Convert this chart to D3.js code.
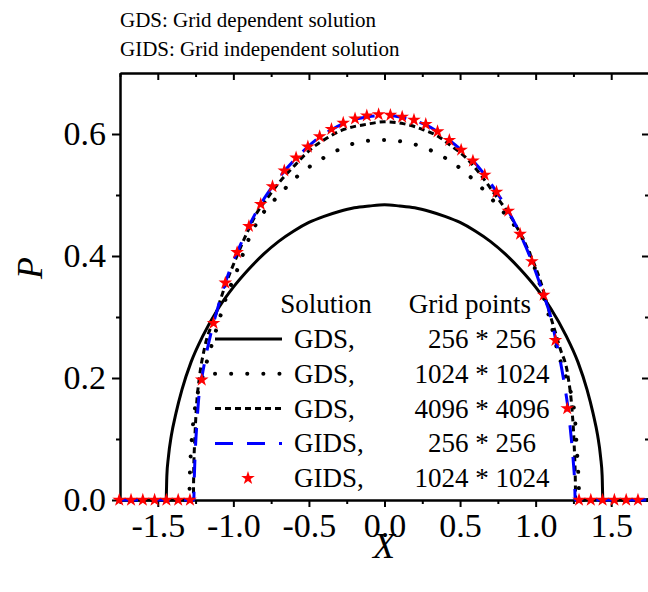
<!DOCTYPE html>
<html>
<head>
<meta charset="utf-8">
<script src="https://cdn.jsdelivr.net/npm/d3@7"></script>
<style>
  html, body { margin: 0; padding: 0; background: #fff; }
  svg { display: block; }
</style>
</head>
<body>
<svg id="chart" width="648" height="592"></svg>
<script>
// Pressure profiles P(X) for different grid resolutions
const gds256X = [-1.75, -1.445, -1.44, -1.43, -1.41, -1.38, -1.34, -1.28, -1.2, -1.1, -1.0, -0.9, -0.8, -0.7, -0.6, -0.5, -0.4, -0.3, -0.2, -0.1, 0,
                 0.1, 0.2, 0.3, 0.4, 0.5, 0.6, 0.7, 0.8, 0.9, 1.0, 1.1, 1.2, 1.28, 1.34, 1.38, 1.41, 1.43, 1.44, 1.445, 1.75];
const gds256P = [0, 0, 0.04, 0.07, 0.106, 0.142, 0.181, 0.226, 0.27, 0.314, 0.349, 0.378, 0.403, 0.424, 0.441, 0.455, 0.465, 0.473, 0.479, 0.482, 0.484,
                 0.482, 0.479, 0.473, 0.465, 0.455, 0.441, 0.424, 0.403, 0.378, 0.349, 0.314, 0.27, 0.226, 0.181, 0.142, 0.106, 0.07, 0.04, 0, 0];

const gds1024X = [-1.75, -1.292, -1.288, -1.278, -1.262, -1.24, -1.206, -1.16, -1.1, -1.05, -0.97, -0.901, -0.846, -0.78, -0.696, -0.614, -0.515, -0.422, -0.306, -0.14, 0,
                  0.169, 0.29, 0.4, 0.5, 0.588, 0.676, 0.753, 0.842, 0.95, 1.05, 1.1, 1.15, 1.206, 1.239, 1.261, 1.272, 1.283, 1.29, 1.75];
const gds1024P = [0, 0, 0.04, 0.09, 0.135, 0.17, 0.2, 0.24, 0.29, 0.33, 0.38, 0.426, 0.454, 0.478, 0.5, 0.522, 0.543, 0.558, 0.574, 0.588, 0.59,
                  0.585, 0.575, 0.561, 0.544, 0.525, 0.503, 0.481, 0.456, 0.41, 0.335, 0.29, 0.24, 0.197, 0.169, 0.131, 0.087, 0.04, 0, 0];

const gds4096X = [-1.75, -1.265, -1.262, -1.255, -1.245, -1.225, -1.19, -1.122, -1.056, -0.978, -0.912, -0.846, -0.769, -0.692, -0.592, -0.493, -0.383, -0.273, -0.118, 0,
                  0.124, 0.257, 0.356, 0.433, 0.544, 0.621, 0.687, 0.742, 0.842, 0.941, 1.029, 1.1, 1.16, 1.216, 1.24, 1.255, 1.262, 1.265, 1.75];
const gds4096P = [0, 0, 0.05, 0.1, 0.15, 0.2, 0.25, 0.3, 0.35, 0.399, 0.437, 0.47, 0.497, 0.522, 0.549, 0.574, 0.593, 0.607, 0.616, 0.62,
                  0.617, 0.607, 0.596, 0.582, 0.56, 0.538, 0.516, 0.497, 0.462, 0.415, 0.361, 0.3, 0.25, 0.2, 0.15, 0.09, 0.04, 0, 0];

const gids256X = [-1.75, -1.262, -1.258, -1.25, -1.24, -1.228, -1.209, -1.17, -1.131, -1.09, -1.053, -1.0, -0.975, -0.897, -0.819, -0.741, -0.663, -0.585, -0.507,
                  -0.429, -0.351, -0.273, -0.195, -0.117, -0.039, 0.039, 0.117, 0.195, 0.273, 0.351, 0.429, 0.507, 0.585, 0.663, 0.741, 0.819, 0.897,
                  0.975, 1.053, 1.1, 1.131, 1.16, 1.19, 1.209, 1.228, 1.24, 1.25, 1.258, 1.262, 1.75];
const gids256P = [0, 0, 0.04, 0.09, 0.13, 0.17, 0.2, 0.25, 0.29, 0.326, 0.356, 0.392, 0.406, 0.449, 0.485, 0.514, 0.539, 0.56, 0.579,
                  0.595, 0.607, 0.617, 0.624, 0.628, 0.63, 0.63, 0.627, 0.622, 0.615, 0.604, 0.59, 0.574, 0.556, 0.533, 0.505, 0.474, 0.436,
                  0.391, 0.336, 0.3, 0.265, 0.232, 0.19, 0.16, 0.12, 0.09, 0.06, 0.03, 0, 0];

const gids1024X = [-1.755, -1.677, -1.599, -1.521, -1.443, -1.365, -1.287, -1.209, -1.131, -1.053, -0.975, -0.897, -0.819, -0.741, -0.663,
                   -0.585, -0.507, -0.429, -0.351, -0.273, -0.195, -0.117, -0.039, 0.039, 0.117, 0.195, 0.273, 0.351, 0.429, 0.507,
                   0.585, 0.663, 0.741, 0.819, 0.897, 0.975, 1.053, 1.131, 1.209, 1.287, 1.365, 1.443, 1.521, 1.599, 1.677];
const gids1024P = [0, 0, 0, 0, 0, 0, 0, 0.197, 0.29, 0.356, 0.406, 0.449, 0.485, 0.514, 0.54,
                   0.561, 0.579, 0.596, 0.608, 0.618, 0.625, 0.63, 0.632, 0.631, 0.628, 0.623, 0.616, 0.604, 0.59, 0.574,
                   0.556, 0.533, 0.505, 0.474, 0.436, 0.391, 0.336, 0.262, 0.15, 0, 0, 0, 0, 0, 0];

const xMajorTicks = [-1.5, -1.0, -0.5, 0.0, 0.5, 1.0, 1.5];
const xMinorTicks = [-1.75, -1.25, -0.75, -0.25, 0.25, 0.75, 1.25, 1.75];
const yMajorTicks = [0.0, 0.2, 0.4, 0.6];
const yMinorTicks = [0.1, 0.3, 0.5];

const legendSolutions = ["GDS,", "GDS,", "GDS,", "GIDS,", "GIDS,"];
const legendGrids = ["256 * 256", "1024 * 1024", "4096 * 4096", "256 * 256", "1024 * 1024"];
const headerLines = ["GDS: Grid dependent solution", "GIDS: Grid independent solution"];

const SERIF = "'Liberation Serif', serif";
const svg = d3.select("#chart");
const plotLeft = 120, plotRight = 649, plotTop = 73, plotBottom = 500;

const x = d3.scaleLinear().domain([-1.75, 1.75]).range([plotLeft, plotRight]);
const y = d3.scaleLinear().domain([0, 0.7]).range([plotBottom, plotTop]);

function label(sel, size) {
  return sel.style("font-family", SERIF).style("font-size", size + "px").attr("fill", "#000");
}

// Header notes
svg.selectAll("text.header").data(headerLines).enter().append("text")
  .attr("class", "header")
  .attr("x", 120).attr("y", (d, i) => 27 + i * 29)
  .call(label, 21)
  .text(d => d);

// Axes
function styleAxis(g) {
  g.select(".domain").attr("stroke", "#000").attr("stroke-width", 2);
  g.selectAll(".tick line").attr("stroke", "#000").attr("stroke-width", 2);
}
const fmt = d3.format(".1f");

const gx = svg.append("g").attr("transform", `translate(0,${plotBottom})`)
  .call(d3.axisBottom(x).tickValues(xMajorTicks).tickSize(7).tickSizeOuter(0).tickPadding(6)
    .tickFormat(d => fmt(d).replace("−", "-")));
gx.call(styleAxis);
gx.selectAll(".tick text").call(label, 34).attr("dy", "0.7em");
svg.append("g").attr("transform", `translate(0,${plotBottom})`)
  .call(d3.axisBottom(x).tickValues(xMinorTicks).tickSize(4).tickSizeOuter(0).tickFormat(""))
  .call(styleAxis);

svg.append("g").attr("transform", `translate(0,${plotTop})`)
  .call(d3.axisTop(x).tickValues(xMajorTicks).tickSize(-7).tickSizeOuter(0).tickFormat(""))
  .call(styleAxis);
svg.append("g").attr("transform", `translate(0,${plotTop})`)
  .call(d3.axisTop(x).tickValues(xMinorTicks).tickSize(-4).tickSizeOuter(0).tickFormat(""))
  .call(styleAxis);

const gy = svg.append("g").attr("transform", `translate(${plotLeft},0)`)
  .call(d3.axisLeft(y).tickValues(yMajorTicks).tickSize(8).tickSizeOuter(0).tickPadding(6).tickFormat(fmt));
gy.call(styleAxis);
gy.selectAll(".tick text").call(label, 34);
svg.append("g").attr("transform", `translate(${plotLeft},0)`)
  .call(d3.axisLeft(y).tickValues(yMinorTicks).tickSize(4).tickSizeOuter(0).tickFormat(""))
  .call(styleAxis);

svg.append("g").attr("transform", `translate(${plotRight},0)`)
  .call(d3.axisRight(y).tickValues(yMajorTicks).tickSize(-7).tickSizeOuter(0).tickFormat(""))
  .call(styleAxis);
svg.append("g").attr("transform", `translate(${plotRight},0)`)
  .call(d3.axisRight(y).tickValues(yMinorTicks).tickSize(-4).tickSizeOuter(0).tickFormat(""))
  .call(styleAxis);

// Axis titles
svg.append("text")
  .attr("transform", `translate(42,268) rotate(-90)`)
  .attr("text-anchor", "middle")
  .call(label, 36).style("font-style", "italic")
  .text("P");
svg.append("text")
  .attr("x", 384).attr("y", 558)
  .attr("text-anchor", "middle")
  .call(label, 36).style("font-style", "italic")
  .text("X");

// Curves
const line = d3.line().x(d => x(d[0])).y(d => y(d[1])).curve(d3.curveMonotoneX);
const zip = (xs, ps) => xs.map((v, i) => [v, ps[i]]);

const series = [
  { data: zip(gds256X, gds256P), stroke: "#000", width: 3, dash: null, cap: "butt" },
  { data: zip(gds1024X, gds1024P), stroke: "#000", width: 4, dash: "0.1 16", cap: "round" },
  { data: zip(gds4096X, gds4096P), stroke: "#000", width: 3, dash: "6 4", cap: "butt" },
  { data: zip(gids256X, gids256P), stroke: "#0000ff", width: 3, dash: "18 14", cap: "butt" }
];

svg.selectAll("path.curve").data(series).enter().append("path")
  .attr("class", "curve")
  .attr("d", d => line(d.data))
  .attr("fill", "none")
  .attr("stroke", d => d.stroke)
  .attr("stroke-width", d => d.width)
  .attr("stroke-dasharray", d => d.dash)
  .attr("stroke-linecap", d => d.cap);

const star = d3.symbol().type(d3.symbolStar).size(58);
svg.selectAll("path.star").data(zip(gids1024X, gids1024P)).enter().append("path")
  .attr("class", "star")
  .attr("transform", d => `translate(${x(d[0])},${y(d[1])})`)
  .attr("d", star)
  .attr("fill", "#ff0000");

// Legend
const legend = svg.append("g");
legend.append("text").attr("x", 326).attr("y", 313).attr("text-anchor", "middle")
  .call(label, 27).text("Solution");
legend.append("text").attr("x", 470).attr("y", 313).attr("text-anchor", "middle")
  .call(label, 27).text("Grid points");

const rowY = i => 339 + i * 34.8;
legend.selectAll("path.sample").data(series).enter().append("path")
  .attr("class", "sample")
  .attr("d", (d, i) => `M215,${rowY(i)}H282`)
  .attr("fill", "none")
  .attr("stroke", d => d.stroke)
  .attr("stroke-width", d => d.width)
  .attr("stroke-dasharray", d => d.dash)
  .attr("stroke-linecap", d => d.cap);
legend.append("path")
  .attr("transform", `translate(248,${rowY(4)})`)
  .attr("d", star)
  .attr("fill", "#ff0000");

legend.selectAll("text.sol").data(legendSolutions).enter().append("text")
  .attr("class", "sol")
  .attr("x", 294).attr("y", (d, i) => rowY(i) + 9)
  .call(label, 27).text(d => d);
legend.selectAll("text.grid").data(legendGrids).enter().append("text")
  .attr("class", "grid")
  .attr("x", 482).attr("y", (d, i) => rowY(i) + 9)
  .attr("text-anchor", "middle")
  .call(label, 27).text(d => d);
</script>
</body>
</html>
